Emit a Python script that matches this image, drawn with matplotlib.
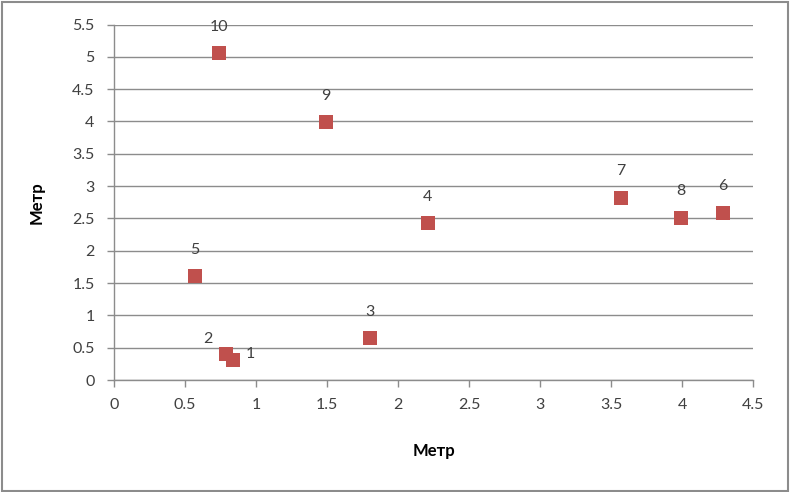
import matplotlib
matplotlib.use('Agg')
import matplotlib.pyplot as plt
from matplotlib.patches import Rectangle

# point data
point_ids = ['1', '2', '3', '4', '5', '6', '7', '8', '9', '10']
x_vals = [0.84, 0.79, 1.80, 2.21, 0.57, 4.29, 3.57, 3.99, 1.49, 0.74]
y_vals = [0.31, 0.40, 0.645, 2.43, 1.61, 2.59, 2.82, 2.51, 3.99, 5.06]

x_ticks = [0, 0.5, 1, 1.5, 2, 2.5, 3, 3.5, 4, 4.5]
y_ticks = [0, 0.5, 1, 1.5, 2, 2.5, 3, 3.5, 4, 4.5, 5, 5.5]
axis_title = 'Метр'

# label offsets in points (Excel nudged 1 and 2 apart)
LABEL_OFFSETS = {'1': (12, 4), '2': (-13, 11)}
DEFAULT_OFFSET = (0, 19)

GRID = '#8c8c8c'
RED = '#c0504d'
TEXT = '#404040'

plt.rcParams['font.family'] = ['Lato', 'DejaVu Sans']

fig = plt.figure(figsize=(7.9, 4.92), dpi=100)
ax = fig.add_axes([0.1443, 0.2276, 0.8089, 0.7226])

ax.scatter(x_vals, y_vals, marker='s', s=10 ** 2, color=RED, linewidths=0,
           zorder=3, clip_on=False)

for pid, x, y in zip(point_ids, x_vals, y_vals):
    dx, dy = LABEL_OFFSETS.get(pid, DEFAULT_OFFSET)
    ax.annotate(pid, (x, y), xytext=(dx, dy), textcoords='offset points',
                ha='center', va='center', fontsize=11.5, color=TEXT)

ax.set_xlim(0, 4.5)
ax.set_ylim(0, 5.5)
ax.set_xticks(x_ticks)
ax.set_yticks(y_ticks)
ax.set_xticklabels([f'{t:g}' for t in x_ticks])
ax.set_yticklabels([f'{t:g}' for t in y_ticks])

ax.yaxis.grid(True, color=GRID, linewidth=1)
ax.set_axisbelow(True)
for side in ['top', 'right']:
    ax.spines[side].set_visible(False)
for side in ['left', 'bottom']:
    ax.spines[side].set_color(GRID)
    ax.spines[side].set_linewidth(1)

ax.tick_params(axis='both', colors=GRID, labelcolor=TEXT, labelsize=11.5,
               direction='out', length=5, width=1)
ax.tick_params(axis='x', pad=8)
ax.tick_params(axis='y', pad=9)

ax.set_xlabel(axis_title, fontsize=12, fontweight='bold', color='black',
              labelpad=22)
ax.set_ylabel(axis_title, fontsize=12, fontweight='bold', color='black',
              labelpad=20)

fig.patches.append(Rectangle((0.002, 0.003), 0.995, 0.993, transform=fig.transFigure,
                             fill=False, edgecolor='#8c8c8c', linewidth=1.5))

fig.savefig('out.png', dpi=100)
